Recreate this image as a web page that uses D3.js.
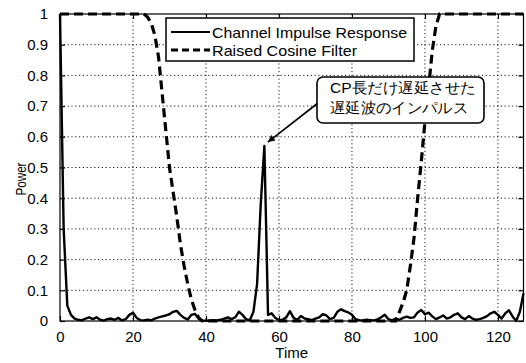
<!DOCTYPE html>
<html>
<head>
<meta charset="utf-8">
<script src="https://cdn.jsdelivr.net/npm/d3@7"></script>
<style>
  html, body { margin: 0; padding: 0; background: #fff; }
  svg { display: block; }
  text { font-family: "Liberation Sans", Arial, sans-serif; fill: #000; }
</style>
</head>
<body>
<svg id="chart" width="526" height="363"></svg>
<script>
// ---------- data ----------
const time = [
  0,1,2,3,4,5,6,7,8,9,10,11,12,13,14,15,16,17,18,19,
  20,21,22,23,24,25,26,27,28,29,30,31,32,33,34,35,36,37,38,39,
  40,41,42,43,44,45,46,47,48,49,50,51,52,53,54,55,56,57,58,59,
  60,61,62,63,64,65,66,67,68,69,70,71,72,73,74,75,76,77,78,79,
  80,81,82,83,84,85,86,87,88,89,90,91,92,93,94,95,96,97,98,99,
  100,101,102,103,104,105,106,107,108,109,110,111,112,113,114,115,116,117,118,119,
  120,121,122,123,124,125,126,127
];
const channelImpulse = [
  1.0,0.30,0.05,0.02,0.008,0.004,0.002,0.008,0.012,0.006,
  0.012,0.004,0.001,0.006,0.008,0.004,0.01,0.002,0.006,0.02,
  0.027,0.01,0.003,0.002,0.004,0.002,0.008,0.012,0.015,0.018,
  0.022,0.03,0.033,0.02,0.01,0.005,0.02,0.023,0.008,0.002,
  0.001,0.002,0.003,0.002,0.004,0.008,0.012,0.006,0.012,0.03,
  0.02,0.006,0.002,0.03,0.12,0.38,0.57,0.02,0.025,0.01,
  0.003,0.004,0.012,0.032,0.01,0.004,0.016,0.008,0.006,0.003,
  0.008,0.012,0.022,0.018,0.006,0.01,0.03,0.038,0.032,0.028,
  0.02,0.006,0.003,0.002,0.004,0.003,0.002,0.005,0.012,0.02,
  0.006,0.002,0.008,0.004,0.01,0.014,0.01,0.012,0.028,0.036,
  0.022,0.027,0.015,0.006,0.012,0.018,0.008,0.012,0.02,0.025,
  0.012,0.006,0.016,0.008,0.004,0.006,0.01,0.016,0.025,0.03,
  0.02,0.008,0.025,0.035,0.015,0.0,0.03,0.09
];
const raisedCosine = [
  1,1,1,1,1,1,1,1,1,1,1,1,1,1,1,1,1,1,1,1,
  1,1,1,1,0.99,0.97,0.93,0.86,0.74,0.62,
  0.5,0.42,0.34,0.25,0.18,0.12,0.07,0.035,0.01,0,
  0,0,0,0,0,0,0,0,0,0,0,0,0,0,0,0,0,0,0,0,
  0,0,0,0,0,0,0,0,0,0,0,0,0,0,0,0,0,0,0,0,
  0,0,0,0,0,0,0,0,0,0,0,0,0,0.03,0.06,0.1,0.18,0.27,0.4,0.52,
  0.65,0.76,0.88,0.96,1,1,1,1,1,1,1,1,1,1,1,1,1,1,1,1,
  1,1,1,1,1,1,1,1
];
const xTicks = [0, 20, 40, 60, 80, 100, 120];
const yTicks = [0, 0.1, 0.2, 0.3, 0.4, 0.5, 0.6, 0.7, 0.8, 0.9, 1];
const yTickLabels = ["0","0.1","0.2","0.3","0.4","0.5","0.6","0.7","0.8","0.9","1"];
const legendLabels = ["Channel Impulse Response", "Raised Cosine Filter"];
const annotationLines = ["CP長だけ遅延させた", "遅延波のインパルス"];
const xLabel = "Time";
const yLabel = "Power";

// ---------- layout ----------
const svg = d3.select("#chart");
const L = 60, R = 523.5, T = 14, B = 321;
const x = d3.scaleLinear().domain([0, 127]).range([L, R]);
const y = d3.scaleLinear().domain([0, 1]).range([B, T]);

// grid
const grid = svg.append("g").attr("stroke", "#000").attr("stroke-width", 0.9)
  .attr("stroke-dasharray", "1.2,2.6");
grid.selectAll(".gx").data(xTicks.slice(1)).enter().append("line")
  .attr("x1", d => x(d)).attr("x2", d => x(d)).attr("y1", T).attr("y2", B);
grid.selectAll(".gy").data(yTicks.slice(1, -1)).enter().append("line")
  .attr("x1", L).attr("x2", R).attr("y1", d => y(d)).attr("y2", d => y(d));

// curves
const line = d3.line().x((d, i) => x(time[i])).y(d => y(d));
svg.append("path").datum(raisedCosine).attr("d", line)
  .attr("fill", "none").attr("stroke", "#000").attr("stroke-width", 3.2)
  .attr("stroke-dasharray", "9,5");
svg.append("path").datum(channelImpulse).attr("d", line)
  .attr("fill", "none").attr("stroke", "#000").attr("stroke-width", 2.4)
  .attr("stroke-linejoin", "round");

// frame
svg.append("rect").attr("x", L).attr("y", T).attr("width", R - L).attr("height", B - T)
  .attr("fill", "none").attr("stroke", "#000").attr("stroke-width", 1.2);

// axes (inward ticks)
const axB = svg.append("g").attr("transform", `translate(0,${B})`)
  .call(d3.axisBottom(x).tickValues(xTicks).tickSize(-5).tickPadding(10).tickFormat(d3.format("d")));
const axT = svg.append("g").attr("transform", `translate(0,${T})`)
  .call(d3.axisTop(x).tickValues(xTicks).tickSize(-5).tickFormat(""));
const axL = svg.append("g").attr("transform", `translate(${L},0)`)
  .call(d3.axisLeft(y).tickValues(yTicks).tickSize(-5).tickPadding(12)
    .tickFormat((d, i) => yTickLabels[i]));
const axR = svg.append("g").attr("transform", `translate(${R},0)`)
  .call(d3.axisRight(y).tickValues(yTicks).tickSize(-5).tickFormat(""));
[axB, axT, axL, axR].forEach(g => {
  g.select(".domain").remove();
  g.selectAll(".tick line").attr("stroke", "#000").attr("stroke-width", 1.2);
  g.selectAll("text").attr("font-family", "Liberation Sans, Arial, sans-serif")
    .attr("font-size", 15).attr("fill", "#000");
});

// axis labels
svg.append("text").attr("x", (L + R) / 2).attr("y", 358).attr("text-anchor", "middle")
  .attr("font-size", 15).text(xLabel);
svg.append("text").attr("transform", "translate(26,179) rotate(-90)")
  .attr("text-anchor", "middle").attr("font-size", 14)
  .attr("textLength", 33).attr("lengthAdjust", "spacingAndGlyphs").text(yLabel);

// legend
const lg = svg.append("g");
lg.append("rect").attr("x", 166).attr("y", 18).attr("width", 248).attr("height", 43)
  .attr("fill", "#fff").attr("stroke", "#000").attr("stroke-width", 1.5);
lg.append("line").attr("x1", 171).attr("x2", 210).attr("y1", 32).attr("y2", 32)
  .attr("stroke", "#000").attr("stroke-width", 2);
lg.append("line").attr("x1", 171).attr("x2", 210).attr("y1", 50).attr("y2", 50)
  .attr("stroke", "#000").attr("stroke-width", 3.2).attr("stroke-dasharray", "7,4");
lg.append("text").attr("x", 212).attr("y", 37.5).attr("font-size", 15)
  .attr("textLength", 195).attr("lengthAdjust", "spacingAndGlyphs").text(legendLabels[0]);
lg.append("text").attr("x", 212).attr("y", 55.5).attr("font-size", 15)
  .attr("textLength", 145).attr("lengthAdjust", "spacingAndGlyphs").text(legendLabels[1]);

// annotation
const peakIdx = 56;
const an = svg.append("g");
svg.append("defs").append("marker").attr("id", "ah").attr("viewBox", "0 0 10 10")
  .attr("refX", 10).attr("refY", 5).attr("markerWidth", 9).attr("markerHeight", 7)
  .attr("markerUnits", "userSpaceOnUse").attr("orient", "auto")
  .append("path").attr("d", "M0,0 L10,5 L0,10 Z").attr("fill", "#000");
an.append("line").attr("x1", 318).attr("y1", 103)
  .attr("x2", x(time[peakIdx]) + 3.5).attr("y2", y(channelImpulse[peakIdx]) - 4)
  .attr("stroke", "#000").attr("stroke-width", 1.6).attr("marker-end", "url(#ah)");
an.append("rect").attr("x", 317).attr("y", 77).attr("width", 167).attr("height", 46)
  .attr("rx", 6).attr("ry", 6)
  .attr("fill", "#fff").attr("stroke", "#000").attr("stroke-width", 1.6);
an.append("text").attr("x", 330).attr("y", 93).attr("font-size", 15)
  .attr("font-family", "Noto Sans CJK JP, sans-serif")
  .attr("textLength", 146).attr("lengthAdjust", "spacingAndGlyphs").text(annotationLines[0]);
an.append("text").attr("x", 330).attr("y", 113).attr("font-size", 15)
  .attr("font-family", "Noto Sans CJK JP, sans-serif")
  .attr("textLength", 138).attr("lengthAdjust", "spacingAndGlyphs").text(annotationLines[1]);
</script>
</body>
</html>
